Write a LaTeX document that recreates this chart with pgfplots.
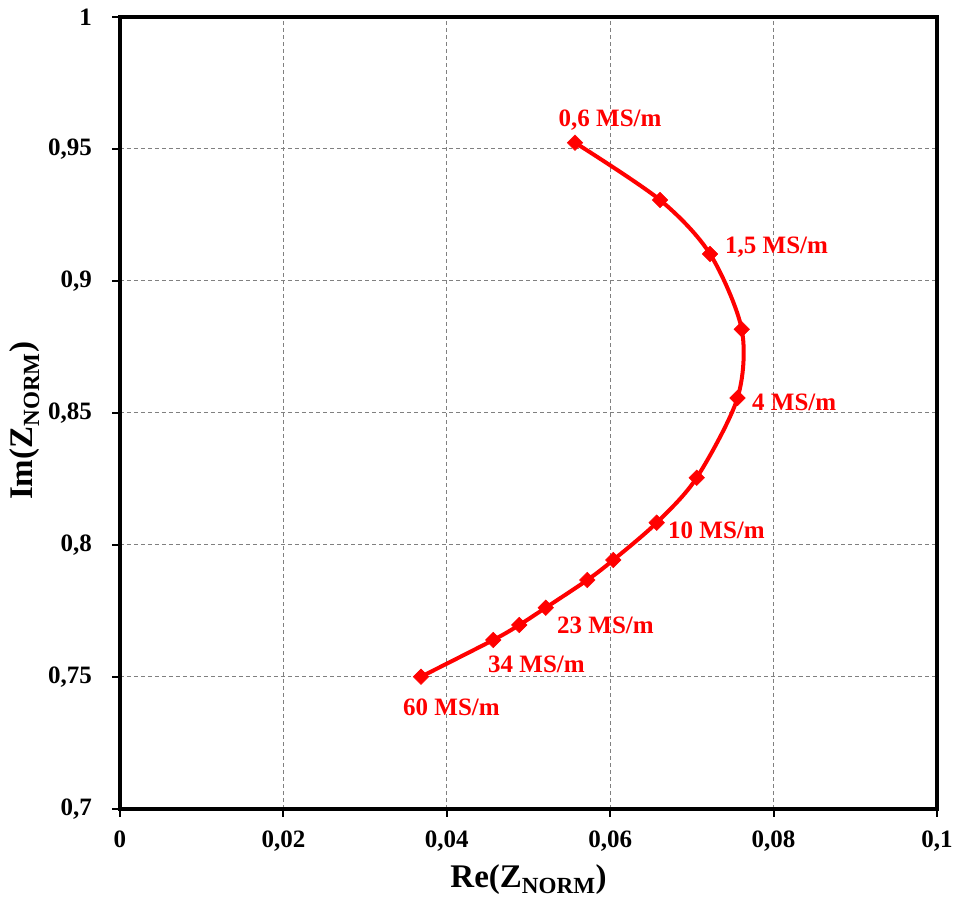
\documentclass[border=0pt]{standalone}
\usepackage{fontspec}
\setmainfont{Liberation Serif}
\usepackage{pgfplots}
\pgfplotsset{compat=1.18}
\definecolor{gridgray}{RGB}{128,128,128}
\begin{document}
\begin{tikzpicture}
\begin{axis}[
  scale only axis, width=817pt, height=792pt,
  xmin=0, xmax=0.1, ymin=0.7, ymax=1,
  xtick={0,0.02,0.04,0.06,0.08,0.1},
  ytick={0.7,0.75,0.8,0.85,0.9,0.95,1},
  scaled x ticks=false, scaled y ticks=false,
  /pgf/number format/.cd, use comma, fixed, precision=2, 1000 sep={}, assume math mode=true,
  /pgfplots/.cd,
  tick label style={font=\bfseries\fontsize{25}{25}\selectfont},
  label style={font=\bfseries\fontsize{33}{33}\selectfont},
  xlabel={Re(Z\textsubscript{NORM})},
  ylabel={Im(Z\textsubscript{NORM})},
  xlabel style={at={(axis description cs:0.5,0)}, anchor=north, inner sep=0pt, yshift=-55pt},
  ylabel style={at={(axis description cs:-0.117,0.49)}, anchor=center, rotate=0, inner sep=0pt},
  axis line style={line width=3.5pt},
  grid=major,
  major grid style={gridgray, line width=1pt, dash pattern=on 4pt off 3pt},
  tick align=outside, tick pos=left, major tick length=8pt,
  tick style={black, line width=2pt},
  xticklabel style={yshift=-10pt},
  yticklabel style={xshift=-16.5pt},
  clip=false,
]
\addplot[red, line width=4pt, smooth, mark=square*, mark size=5.5pt, mark options={rotate=45, line width=0.5pt}] coordinates {
(0.05569,0.95240)
(0.06610,0.93068)
(0.07222,0.91023)
(0.07610,0.88170)
(0.07558,0.85568)
(0.07059,0.82549)
(0.06569,0.80845)
(0.06038,0.79432)
(0.05720,0.78674)
(0.05211,0.77625)
(0.04887,0.76970)
(0.04569,0.76402)
(0.03684,0.75011)
};
\begin{scope}[every node/.style={red, font=\bfseries\fontsize{25}{25}\selectfont, inner sep=0pt}]
\node[anchor=center] at (axis cs:0.05998,0.96100) {0,6 MS/m};
\node[anchor=west] at (axis cs:0.07405,0.91288) {1,5 MS/m};
\node[anchor=west] at (axis cs:0.07736,0.85417) {4 MS/m};
\node[anchor=west] at (axis cs:0.06708,0.80568) {10 MS/m};
\node[anchor=west] at (axis cs:0.05349,0.76970) {23 MS/m};
\node[anchor=west] at (axis cs:0.04504,0.75492) {34 MS/m};
\node[anchor=west] at (axis cs:0.03464,0.73864) {60 MS/m};
\end{scope}
\path (rel axis cs:0,0) ++(-120pt,-92pt) coordinate (bbsw);
\path (rel axis cs:1,1) ++(19pt,17pt) coordinate (bbne);
\end{axis}
\path (bbsw) rectangle (bbne);
\end{tikzpicture}
\end{document}
